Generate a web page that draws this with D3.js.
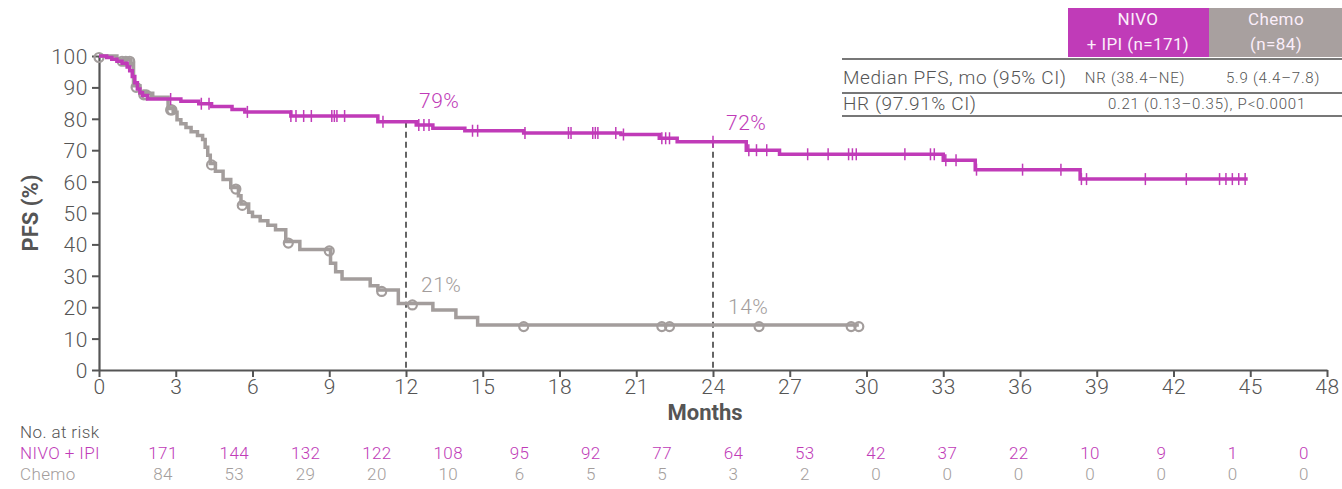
<!DOCTYPE html>
<html>
<head>
<meta charset="utf-8">
<script src="https://cdn.jsdelivr.net/npm/d3@7"></script>
<style>
  body { margin: 0; background: #fff; }
  svg text { font-family: Roboto, "Liberation Sans", sans-serif; }
</style>
</head>
<body>
<svg width="1342" height="489"></svg>
<script>
// PFS Kaplan-Meier: NIVO + IPI vs Chemo

var monthTicks = d3.range(0, 49, 3);
var pctTicks = d3.range(0, 101, 10);

// [month, PFS %] where each step starts
var nivoSteps = [[0,100],[0.3,99.5],[0.5,99],[0.7,98.3],[0.9,97.7],[1.1,96.5],[1.2,95.3],[1.3,93.5],[1.4,91.5],
  [1.5,89.5],[1.6,88.3],[1.7,87.4],[1.9,86.3],[3.2,85.6],[3.9,84.8],[4.4,83.9],[5.2,83.0],[5.7,82.2],
  [7.5,80.9],[10.9,79.1],[12.4,78.0],[13.05,77.0],[14.3,76.2],[16.6,75.5],[20.4,75.0],[21.9,73.8],
  [22.6,72.7],[25.3,70.0],[26.6,68.7],[33.0,66.8],[34.25,63.8],[38.35,60.8]];
var nivoEnd = 44.9;
var nivoCensor = [2.8,4.0,4.3,5.8,7.5,7.7,8.0,8.3,9.1,9.2,9.3,9.6,11.1,12.5,12.7,12.9,14.6,14.8,16.65,
  18.35,18.45,19.3,19.4,19.5,20.2,20.5,22.0,22.15,22.3,24.0,25.4,25.7,26.1,27.7,28.5,29.3,29.45,29.6,
  31.5,32.5,32.65,33.1,33.5,34.3,36.1,37.6,38.4,38.6,40.9,42.5,43.8,44.05,44.3,44.55,44.8];

var chemoSteps = [[0,100],[0.7,98.8],[1.25,97.6],[1.35,90.5],[1.6,88.1],[2.1,86.9],[2.7,83.3],[2.9,82.1],
  [3.05,79.7],[3.2,78.4],[3.4,77.2],[3.6,75.9],[3.85,74.7],[4.05,73.4],[4.15,70.9],[4.25,68.4],[4.35,65.8],
  [4.55,63.3],[4.85,60.7],[5.15,58.1],[5.45,55.5],[5.55,52.9],[5.85,50.2],[6.0,48.9],[6.3,47.5],[6.6,46.1],
  [6.9,44.7],[7.3,40.9],[7.85,38.4],[9.05,34.0],[9.25,31.3],[9.5,29.0],[10.6,26.8],[10.9,25.5],
  [11.7,21.2],[13.05,19.1],[13.95,16.7],[14.8,14.3]];
var chemoEnd = 29.7;
var chemoCensor = [0,0.9,1.05,1.2,1.45,1.75,1.85,2.8,2.85,4.4,5.35,5.6,7.4,9.0,11.05,12.25,16.6,22.0,22.3,25.8,29.4,29.7];

var landmarkMonths = [12, 24];
var nivoLandmark = [79, 72];
var chemoLandmark = [21, 14];

var riskNivo = [171,144,132,122,108,95,92,77,64,53,42,37,22,10,9,1,0];
var riskChemo = [84,53,29,20,10,6,5,5,3,2,0,0,0,0,0,0,0];

var nivoColor = '#c03bb8';
var chemoColor = '#a39d9c';
var axisColor = '#555';

var svg = d3.select('svg');

var x = d3.scaleLinear().domain([0, 48]).range([99, 1327]);
var y = d3.scaleLinear().domain([0, 100]).range([370, 56]);

function levelAt(steps, t) {
    var v = steps[0][1];
    steps.forEach(function(s) { if (s[0] <= t) v = s[1]; });
    return v;
}

// axes
var yAxis = svg.append('g')
    .attr('transform', 'translate(' + x(0) + ',0)')
    .call(d3.axisLeft(y).tickValues(pctTicks).tickSize(7).tickSizeOuter(0).tickPadding(4));
var xAxis = svg.append('g')
    .attr('transform', 'translate(0,' + y(0) + ')')
    .call(d3.axisBottom(x).tickValues(monthTicks).tickSize(7).tickSizeOuter(0).tickPadding(2));

[yAxis, xAxis].forEach(function(g) {
    g.select('.domain').attr('stroke', axisColor).attr('stroke-width', 2.2);
    g.selectAll('.tick line').attr('stroke', axisColor).attr('stroke-width', 2);
    g.selectAll('.tick text').attr('fill', axisColor).attr('font-size', 21).attr('font-weight', 300)
        .attr('letter-spacing', 0.6);
});
yAxis.selectAll('.tick text').attr('dy', '0.36em');

svg.append('text')
    .attr('transform', 'translate(38,' + y(50) + ') rotate(-90)')
    .attr('text-anchor', 'middle')
    .attr('fill', axisColor).attr('font-size', 22).attr('font-weight', 700)
    .text('PFS (%)');

svg.append('text')
    .attr('x', 705).attr('y', 420)
    .attr('text-anchor', 'middle')
    .attr('fill', axisColor).attr('font-size', 22).attr('font-weight', 700)
    .text('Months');

// landmark dashed lines
svg.selectAll('.landmark')
    .data(landmarkMonths)
    .enter()
    .append('line')
    .attr('class', 'landmark')
    .attr('x1', function(d) { return x(d); })
    .attr('x2', function(d) { return x(d); })
    .attr('y1', function(d) { return y(levelAt(nivoSteps, d)); })
    .attr('y2', y(0))
    .attr('stroke', '#555')
    .attr('stroke-width', 1.8)
    .attr('stroke-dasharray', '6,4');

// curves
var line = d3.line()
    .x(function(d) { return x(d[0]); })
    .y(function(d) { return y(d[1]); })
    .curve(d3.curveStepAfter);

var chemoPts = chemoSteps.concat([[chemoEnd, chemoSteps[chemoSteps.length - 1][1]]]);
var nivoPts = nivoSteps.concat([[nivoEnd, nivoSteps[nivoSteps.length - 1][1]]]);

svg.append('path')
    .datum(chemoPts)
    .attr('d', line)
    .attr('fill', 'none')
    .attr('stroke', chemoColor)
    .attr('stroke-width', 3.5);

svg.selectAll('.chemoCensor')
    .data(chemoCensor)
    .enter()
    .append('circle')
    .attr('class', 'chemoCensor')
    .attr('cx', function(d) { return x(d); })
    .attr('cy', function(d) { return y(levelAt(chemoSteps, d)) + 1.5; })
    .attr('r', 4.5)
    .attr('fill', 'none')
    .attr('stroke', chemoColor)
    .attr('stroke-width', 2.2);

svg.append('path')
    .datum(nivoPts)
    .attr('d', line)
    .attr('fill', 'none')
    .attr('stroke', nivoColor)
    .attr('stroke-width', 3.5);

svg.selectAll('.nivoCensor')
    .data(nivoCensor)
    .enter()
    .append('line')
    .attr('class', 'nivoCensor')
    .attr('x1', function(d) { return x(d); })
    .attr('x2', function(d) { return x(d); })
    .attr('y1', function(d) { return y(levelAt(nivoSteps, d)) - 6; })
    .attr('y2', function(d) { return y(levelAt(nivoSteps, d)) + 6; })
    .attr('stroke', nivoColor)
    .attr('stroke-width', 1.5);

// landmark labels
svg.selectAll('.nivoLab')
    .data(landmarkMonths)
    .enter()
    .append('text')
    .attr('x', function(d) { return x(d) + 13; })
    .attr('y', function(d, i) { return y(nivoLandmark[i]) - 14; })
    .attr('fill', nivoColor).attr('font-size', 21).attr('font-weight', 300).attr('letter-spacing', 0.5)
    .text(function(d, i) { return nivoLandmark[i] + '%'; });

svg.selectAll('.chemoLab')
    .data(landmarkMonths)
    .enter()
    .append('text')
    .attr('x', function(d) { return x(d) + 15; })
    .attr('y', function(d, i) { return y(chemoLandmark[i]) - 12; })
    .attr('fill', chemoColor).attr('font-size', 21).attr('font-weight', 300).attr('letter-spacing', 0.5)
    .text(function(d, i) { return chemoLandmark[i] + '%'; });

// summary table
var table = svg.append('g');
table.append('rect').attr('x', 1068).attr('y', 8).attr('width', 141).attr('height', 49).attr('fill', nivoColor);
table.append('rect').attr('x', 1209).attr('y', 8).attr('width', 133).attr('height', 49).attr('fill', '#a8a09f');
[['NIVO', '+ IPI (n=171)', 1138], ['Chemo', '(n=84)', 1276]].forEach(function(h) {
    table.append('text').attr('x', h[2]).attr('y', 25).attr('text-anchor', 'middle')
        .attr('fill', '#fbeefa').attr('font-size', 17).attr('letter-spacing', 0.4).text(h[0]);
    table.append('text').attr('x', h[2]).attr('y', 50).attr('text-anchor', 'middle')
        .attr('fill', '#fbeefa').attr('font-size', 17).attr('letter-spacing', 0.4).text(h[1]);
});
[59, 93, 116].forEach(function(ly) {
    table.append('line').attr('x1', 842).attr('x2', 1342).attr('y1', ly).attr('y2', ly)
        .attr('stroke', '#777').attr('stroke-width', 1.8);
});
table.append('text').attr('x', 843).attr('y', 84).attr('fill', '#555').attr('font-size', 19)
    .attr('font-weight', 300).attr('letter-spacing', 0.6).text('Median PFS, mo (95% CI)');
table.append('text').attr('x', 1135).attr('y', 83).attr('text-anchor', 'middle').attr('fill', '#555')
    .attr('font-size', 15).attr('font-weight', 300).attr('letter-spacing', 0.8).text('NR (38.4–NE)');
table.append('text').attr('x', 1273).attr('y', 83).attr('text-anchor', 'middle').attr('fill', '#555')
    .attr('font-size', 15).attr('font-weight', 300).attr('letter-spacing', 0.8).text('5.9 (4.4–7.8)');
table.append('text').attr('x', 843).attr('y', 110).attr('fill', '#555').attr('font-size', 19)
    .attr('font-weight', 300).attr('letter-spacing', 0.6).text('HR (97.91% CI)');
table.append('text').attr('x', 1207).attr('y', 109).attr('text-anchor', 'middle').attr('fill', '#555')
    .attr('font-size', 15).attr('font-weight', 300).attr('letter-spacing', 0.8).text('0.21 (0.13–0.35), P<0.0001');

// number at risk
var riskX = d3.scalePoint().domain(monthTicks).range([163, 1304]);

svg.append('text').attr('x', 20).attr('y', 438).attr('fill', '#555').attr('font-size', 17)
    .attr('font-weight', 300).attr('letter-spacing', 0.4).text('No. at risk');
svg.append('text').attr('x', 20).attr('y', 459).attr('fill', nivoColor).attr('font-size', 17)
    .attr('font-weight', 300).attr('letter-spacing', 0.4).text('NIVO + IPI');
svg.append('text').attr('x', 20).attr('y', 480).attr('fill', chemoColor).attr('font-size', 17)
    .attr('font-weight', 300).attr('letter-spacing', 0.4).text('Chemo');

svg.selectAll('.riskNivo')
    .data(riskNivo)
    .enter()
    .append('text')
    .attr('x', function(d, i) { return riskX(monthTicks[i]); })
    .attr('y', 459)
    .attr('text-anchor', 'middle')
    .attr('fill', nivoColor).attr('font-size', 17).attr('font-weight', 300).attr('letter-spacing', 0.4)
    .text(function(d) { return d; });

svg.selectAll('.riskChemo')
    .data(riskChemo)
    .enter()
    .append('text')
    .attr('x', function(d, i) { return riskX(monthTicks[i]); })
    .attr('y', 480)
    .attr('text-anchor', 'middle')
    .attr('fill', chemoColor).attr('font-size', 17).attr('font-weight', 300).attr('letter-spacing', 0.4)
    .text(function(d) { return d; });
</script>
</body>
</html>
